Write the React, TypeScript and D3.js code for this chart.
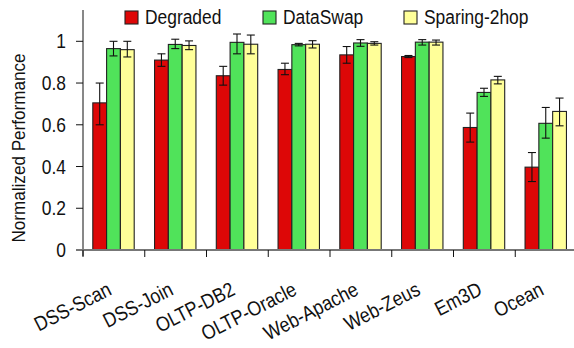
import React from "react";
import * as d3 from "d3";

// Workloads along the x axis
const categories = [
  "DSS-Scan",
  "DSS-Join",
  "OLTP-DB2",
  "OLTP-Oracle",
  "Web-Apache",
  "Web-Zeus",
  "Em3D",
  "Ocean",
];
const seriesNames = ["Degraded", "DataSwap", "Sparing-2hop"];
const seriesColors = ["#dd0707", "#50e35a", "#ffff99"];

// Bar heights, per series
const degraded = [0.705, 0.91, 0.835, 0.865, 0.935, 0.927, 0.587, 0.397];
const dataSwap = [0.965, 0.985, 0.995, 0.984, 0.992, 0.996, 0.755, 0.607];
const sparing2hop = [0.96, 0.98, 0.986, 0.986, 0.99, 0.996, 0.815, 0.664];

// Error bar [low, high], per series
const degradedErr = [
  [0.6, 0.8], [0.88, 0.94], [0.79, 0.88], [0.84, 0.895],
  [0.895, 0.975], [0.922, 0.932], [0.517, 0.656], [0.328, 0.467],
];
const dataSwapErr = [
  [0.93, 1.0], [0.965, 1.01], [0.94, 1.035], [0.978, 0.99],
  [0.976, 1.008], [0.982, 1.008], [0.736, 0.775], [0.536, 0.683],
];
const sparing2hopErr = [
  [0.925, 1.0], [0.96, 1.002], [0.94, 1.03], [0.968, 1.003],
  [0.982, 0.998], [0.982, 1.006], [0.796, 0.832], [0.595, 0.728],
];

const yTicks = [0, 0.2, 0.4, 0.6, 0.8, 1];

const values = [degraded, dataSwap, sparing2hop];
const errors = [degradedErr, dataSwapErr, sparing2hopErr];

export default function App() {
  const width = 574;
  const height = 348;
  const left = 83;
  const bottom = 250;
  const top = 10;
  const font = "'Liberation Sans', Arial, Helvetica, sans-serif";
  const squeeze = 0.87;

  const y = d3.scaleLinear().domain([0, 1.15]).range([bottom, top]);
  const x = d3
    .scaleBand()
    .domain(categories)
    .range([left, left + categories.length * 61.75]);
  const x1 = d3
    .scaleBand()
    .domain(seriesNames)
    .range([9.8, 51.2]);

  const legendX = [125, 263, 404];

  return (
    <svg
      width={width}
      height={height}
      style={{ position: "absolute", left: 0, top: 0 }}
      fontFamily={font}
    >
      <rect width={width} height={height} fill="#fff" />

      {/* bars */}
      {categories.map((c, i) => (
        <g key={c} transform={`translate(${x(c)},0)`}>
          {seriesNames.map((s, k) => (
            <rect
              key={s}
              x={x1(s)}
              y={y(values[k][i])}
              width={x1.bandwidth()}
              height={bottom - y(values[k][i])}
              fill={seriesColors[k]}
              stroke="#222"
              strokeWidth={1.1}
            />
          ))}
          {seriesNames.map((s, k) => {
            const cx = (x1(s) as number) + x1.bandwidth() / 2;
            const [lo, hi] = errors[k][i];
            return (
              <g key={s} stroke="#111" strokeWidth={1.1}>
                <line x1={cx} x2={cx} y1={y(lo)} y2={y(hi)} />
                <line x1={cx - 4} x2={cx + 4} y1={y(lo)} y2={y(lo)} />
                <line x1={cx - 4} x2={cx + 4} y1={y(hi)} y2={y(hi)} />
              </g>
            );
          })}
        </g>
      ))}

      {/* y axis */}
      <line x1={left} x2={left} y1={top} y2={bottom + 6} stroke="#111" />
      {yTicks.map((t) => (
        <g key={t}>
          <line x1={left - 7} x2={left} y1={y(t)} y2={y(t)} stroke="#111" />
          <g transform={`translate(66,${y(t) + 7}) scale(${squeeze},1)`}>
            <text textAnchor="end" fontSize={20} fill="#111">
              {d3.format("~g")(t)}
            </text>
          </g>
        </g>
      ))}
      <g transform={`translate(25,148) rotate(-90) scale(0.95,1)`}>
        <text textAnchor="middle" fontSize={18} fill="#111">
          Normalized Performance
        </text>
      </g>

      {/* x axis */}
      <line x1={left - 7} x2={width} y1={bottom} y2={bottom} stroke="#777" strokeWidth={2} />
      {categories.map((c) => (
        <line
          key={c}
          x1={x(c)}
          x2={x(c)}
          y1={bottom}
          y2={bottom + 7}
          stroke="#111"
        />
      ))}
      {categories.map((c) => (
        <g
          key={c}
          transform={`translate(${(x(c) as number) + x.bandwidth() / 2 - 1},294) rotate(-27) scale(${squeeze},1)`}
        >
          <text textAnchor="end" fontSize={20.5} fill="#111">
            {c}
          </text>
        </g>
      ))}

      {/* legend */}
      {seriesNames.map((s, k) => (
        <g key={s} transform={`translate(${legendX[k]},11)`}>
          <rect width={13} height={13} fill={seriesColors[k]} stroke="#222" strokeWidth={1.1} />
          <g transform={`translate(20,13) scale(${squeeze},1)`}>
            <text fontSize={20} fill="#111">
              {s}
            </text>
          </g>
        </g>
      ))}
    </svg>
  );
}
